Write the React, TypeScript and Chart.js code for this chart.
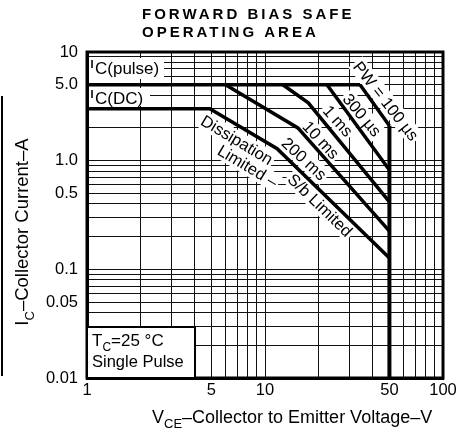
import React, { useEffect, useRef } from 'react';
import { Chart, registerables } from 'chart.js';

Chart.register(...registerables);

// ---- Data ----
const pulseLimitV = [1, 34.2];
const pulseLimitA = [5, 5];
const pw200msV = [1, 4.9, 11.7, 50];
const pw200msA = [3, 3, 1.29, 0.127];
const pw10msV = [6.0, 15.3, 50];
const pw10msA = [5, 2.0, 0.225];
const pw1msV = [12.6, 17.5, 50];
const pw1msA = [5, 3.4, 0.417];
const pw300usV = [22.3, 50];
const pw300usA = [5, 0.82];
const pw100usV = [34.2, 50];
const pw100usA = [5, 2.1];
const vceoLimitV = [50, 50];
const vceoLimitA = [0.01, 2.1];

const xGridValues = [1, 2, 3, 4, 5, 6, 7, 8, 9, 10, 20, 30, 40, 50, 60, 70, 80, 90, 100];
const xLabelValues = [1, 5, 10, 50, 100];
const xLabelTexts = ['1', '5', '10', '50', '100'];
const yGridValues = [
  0.01, 0.02, 0.03, 0.04, 0.05, 0.06, 0.07, 0.08, 0.09,
  0.1, 0.2, 0.3, 0.4, 0.5, 0.6, 0.7, 0.8, 0.9,
  1, 2, 3, 4, 5, 6, 7, 8, 9, 10,
];
const yLabelValues = [0.01, 0.05, 0.1, 0.5, 1, 5, 10];
const yLabelTexts = ['0.01', '0.05', '0.1', '0.5', '1.0', '5.0', '10'];

const titleLines = ['FORWARD BIAS SAFE', 'OPERATING AREA'];
const noteLines = ['=25 °C', 'Single Pulse'];

// annotation texts along the curves (anchored in data coordinates)
const curveLabels = [
  { text: 'Dissipation', v: 6.96, a: 1.55, angle: 31 },
  { text: 'Limited –', v: 8.0, a: 0.89, angle: 31 },
  { text: 'S/b Limited', v: 20.4, a: 0.39, angle: 44 },
  { text: '200 ms', v: 16.6, a: 1.04, angle: 43 },
  { text: '10 ms', v: 20.6, a: 1.55, angle: 47 },
  { text: '1 ms', v: 25.7, a: 2.32, angle: 48 },
  { text: '300 µs', v: 35.1, a: 2.63, angle: 50 },
  { text: 'PW = 100 µs', v: 47.8, a: 3.54, angle: 52 },
];

const FONT = '"Liberation Sans", Arial, Helvetica, sans-serif';

function pts(xs: number[], ys: number[]) {
  return xs.map((x, i) => ({ x, y: ys[i] }));
}

type Part = { t: string; sub?: boolean };

function partsWidth(ctx: CanvasRenderingContext2D, parts: Part[], size: number) {
  let w = 0;
  for (const p of parts) {
    ctx.font = `${p.sub ? Math.round(size * 0.72) : size}px ${FONT}`;
    w += ctx.measureText(p.t).width;
  }
  return w;
}

function drawParts(ctx: CanvasRenderingContext2D, parts: Part[], x: number, y: number, size: number) {
  let cx = x;
  for (const p of parts) {
    const s = p.sub ? Math.round(size * 0.72) : size;
    ctx.font = `${s}px ${FONT}`;
    ctx.fillText(p.t, cx, y + (p.sub ? size * 0.3 : 0));
    cx += ctx.measureText(p.t).width;
  }
}

const decorPlugin = {
  id: 'decor',
  beforeDatasetsDraw(chart: any) {
    const ctx: CanvasRenderingContext2D = chart.ctx;
    const xs = chart.scales.x;
    const ys = chart.scales.y;
    ctx.save();
    // I_C labels at left
    ctx.fillStyle = '#fff';
    ctx.fillRect(89, 58, 75, 21);
    ctx.fillRect(89, 88, 61, 18);
    ctx.fillStyle = '#000';
    ctx.textAlign = 'left';
    ctx.textBaseline = 'alphabetic';
    ctx.font = `bold 11px ${FONT}`;
    ctx.fillText('I', 90.5, 68);
    ctx.fillText('I', 90.5, 98);
    ctx.font = `17px ${FONT}`;
    ctx.fillText('C(pulse)', 95, 74);
    ctx.fillText('C(DC)', 95, 103.5);

    // rotated labels along curves
    for (const l of curveLabels) {
      const px = xs.getPixelForValue(l.v);
      const py = ys.getPixelForValue(l.a);
      ctx.save();
      ctx.translate(px, py);
      ctx.rotate((l.angle * Math.PI) / 180);
      ctx.font = `16.5px ${FONT}`;
      const w = ctx.measureText(l.text).width;
      ctx.fillStyle = '#fff';
      ctx.fillRect(-w / 2 - 2, -9, w + 4, 18);
      ctx.fillStyle = '#000';
      ctx.textAlign = 'center';
      ctx.textBaseline = 'middle';
      ctx.fillText(l.text, 0, 1);
      ctx.restore();
    }
    ctx.restore();
  },
  afterDatasetsDraw(chart: any) {
    const ctx: CanvasRenderingContext2D = chart.ctx;
    const { left, right, top, bottom } = chart.chartArea;
    ctx.save();
    // frame
    ctx.strokeStyle = '#000';
    ctx.lineWidth = 3;
    ctx.strokeRect(left, top, right - left, bottom - top);
    // note box
    ctx.fillStyle = '#fff';
    ctx.fillRect(left + 1, 327, 108, bottom - 327 - 1);
    ctx.lineWidth = 2;
    ctx.strokeRect(left, 327, 108, bottom - 327);
    ctx.fillStyle = '#000';
    ctx.textAlign = 'left';
    ctx.textBaseline = 'alphabetic';
    drawParts(ctx, [{ t: 'T' }, { t: 'C', sub: true }, { t: noteLines[0] }], 92, 346, 17);
    ctx.font = `16.5px ${FONT}`;
    ctx.fillText(noteLines[1], 92, 367);
    ctx.restore();
  },
  afterDraw(chart: any) {
    const ctx: CanvasRenderingContext2D = chart.ctx;
    ctx.save();
    ctx.fillStyle = '#000';
    ctx.textAlign = 'left';
    ctx.textBaseline = 'alphabetic';
    // title
    ctx.font = `bold 15px ${FONT}`;
    (ctx as any).letterSpacing = '3px';
    ctx.fillText(titleLines[0], 142, 18.5);
    ctx.fillText(titleLines[1], 142, 37);
    (ctx as any).letterSpacing = '0px';
    // x title
    drawParts(ctx, [{ t: 'V' }, { t: 'CE', sub: true }, { t: '–Collector to Emitter Voltage–V' }], 152, 423, 18);
    // y title
    const yParts: Part[] = [{ t: 'I' }, { t: 'C', sub: true }, { t: '–Collector Current–A' }];
    ctx.translate(28, 232);
    ctx.rotate(-Math.PI / 2);
    const w = partsWidth(ctx, yParts, 18.5);
    drawParts(ctx, yParts, -w / 2, 0, 18.5);
    ctx.restore();
    // scan edge line at far left
    ctx.save();
    ctx.fillStyle = '#000';
    ctx.fillRect(1, 96, 2, 280);
    ctx.restore();
  },
};

function findLabel(values: number[], texts: string[], v: number) {
  const i = values.findIndex((x) => Math.abs(x - v) < 1e-9);
  return i >= 0 ? texts[i] : '';
}

export default function App() {
  const ref = useRef<HTMLCanvasElement | null>(null);
  useEffect(() => {
    if (!ref.current) return;
    const line = (xs: number[], ys: number[], w = 3.5) => ({
      data: pts(xs, ys),
      showLine: true,
      borderColor: '#000',
      backgroundColor: '#000',
      borderWidth: w,
      pointRadius: 0,
      tension: 0,
      fill: false,
    });
    const chart = new Chart(ref.current, {
      type: 'scatter',
      data: {
        datasets: [
          line(pulseLimitV, pulseLimitA),
          line(pw200msV, pw200msA),
          line(pw10msV, pw10msA),
          line(pw1msV, pw1msA),
          line(pw300usV, pw300usA),
          line(pw100usV, pw100usA),
          line(vceoLimitV, vceoLimitA, 4),
        ] as any,
      },
      options: {
        animation: false,
        responsive: false,
        maintainAspectRatio: false,
        layout: { padding: { left: 0, top: 52, right: 32, bottom: 0 } },
        plugins: { legend: { display: false }, tooltip: { enabled: false }, title: { display: false } },
        scales: {
          x: {
            type: 'logarithmic',
            min: 1,
            max: 100,
            afterBuildTicks: (s: any) => {
              s.ticks = xGridValues.map((v) => ({ value: v }));
            },
            afterFit: (s: any) => {
              s.height = 59;
              s.paddingLeft = 0;
              s.paddingRight = 0;
            },
            ticks: {
              autoSkip: false,
              maxRotation: 0,
              minRotation: 0,
              padding: 3,
              color: '#000',
              font: { family: FONT, size: 16.5 },
              callback: (v: any) => findLabel(xLabelValues, xLabelTexts, Number(v)),
            },
            grid: { color: '#111', lineWidth: 1, drawTicks: false },
            border: { color: '#000', width: 3 },
          },
          y: {
            type: 'logarithmic',
            min: 0.01,
            max: 10,
            afterBuildTicks: (s: any) => {
              s.ticks = yGridValues.map((v) => ({ value: v }));
            },
            afterFit: (s: any) => {
              s.width = 87;
              s.paddingTop = 0;
              s.paddingBottom = 0;
            },
            ticks: {
              autoSkip: false,
              padding: 9,
              color: '#000',
              font: { family: FONT, size: 16.5 },
              callback: (v: any) => findLabel(yLabelValues, yLabelTexts, Number(v)),
            },
            grid: { color: '#111', lineWidth: 1, drawTicks: false },
            border: { color: '#000', width: 3 },
          },
        } as any,
      },
      plugins: [decorPlugin],
    });
    return () => chart.destroy();
  }, []);
  return (
    <div style={{ position: 'fixed', left: 0, top: 0, width: 475, height: 437, background: '#fff' }}>
      <canvas ref={ref} width={475} height={437} />
    </div>
  );
}
